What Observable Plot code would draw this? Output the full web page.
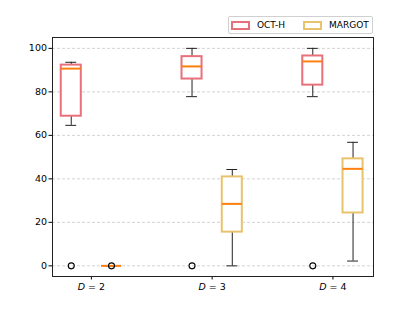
<!DOCTYPE html>
<html><head><meta charset="utf-8">
<script src="https://cdn.jsdelivr.net/npm/d3@7"></script>
<script src="https://cdn.jsdelivr.net/npm/@observablehq/plot@0.6"></script>
<style>
body{margin:0;background:#fff;font-family:"DejaVu Sans",sans-serif;}
#wrap{position:relative;width:415px;height:311px;}
#legend{position:absolute;left:228px;top:16px;width:143px;height:16px;border:1px solid #d0d0d0;border-radius:2px;background:#fff;font-size:9px;color:#000;display:flex;align-items:center;}
.sw{display:inline-block;width:15px;height:5px;border:2px solid;margin-left:2px;margin-right:7px;}
</style></head><body>
<div id="wrap"><div id="chart"></div>
<div id="legend"><span class="sw" style="border-color:#e8707a"></span><span>OCT-H</span><span class="sw" style="border-color:#e9c36c;margin-left:18px"></span><span>MARGOT</span></div>
</div>
<script>
const depths = [2, 3, 4];
const methods = ["OCT-H", "MARGOT"];
const colors = ["#e8707a", "#e9c36c"];
const yTicks = [0, 20, 40, 60, 80, 100];
const octLo  = [64.6, 77.8, 77.8];
const octQ1  = [68.8, 85.9, 83.1];
const octMed = [90.7, 91.7, 94.0];
const octQ3  = [92.3, 96.2, 96.5];
const octHi  = [93.6, 100, 100];
const octOut = [[0], [0], [0]];
const marLo  = [0, 0, 2.2];
const marQ1  = [0, 15.5, 24.3];
const marMed = [0, 28.5, 44.6];
const marQ3  = [0, 40.9, 49.2];
const marHi  = [0, 44.3, 56.8];
const marOut = [[0], [], []];

const offset = [-1/6, 1/6];
const halfW = 0.083, capW = 0.045;
const stats = [
  {lo: octLo, q1: octQ1, med: octMed, q3: octQ3, hi: octHi, out: octOut},
  {lo: marLo, q1: marQ1, med: marMed, q3: marQ3, hi: marHi, out: marOut}
];
const boxes = [], outliers = [];
stats.forEach((s, m) => depths.forEach((d, i) => {
  const x = d + offset[m];
  boxes.push({method: methods[m], color: colors[m], x, lo: s.lo[i], q1: s.q1[i], med: s.med[i], q3: s.q3[i], hi: s.hi[i]});
  s.out[i].forEach(v => outliers.push({x, v}));
}));

const chart = Plot.plot({
  width: 415, height: 311,
  marginLeft: 52, marginRight: 42, marginTop: 37, marginBottom: 35,
  style: {fontFamily: "DejaVu Sans, sans-serif", fontSize: "9.5px", color: "#000", background: "#fff"},
  x: {domain: [1.678, 4.336], ticks: depths, tickFormat: d => "D = " + d, tickSize: 3.5, tickPadding: 3, label: null},
  y: {domain: [-4.9, 105], ticks: yTicks, tickSize: 3.5, tickPadding: 2, label: null},
  marks: [
    Plot.ruleY(yTicks, {stroke: "#c8c8c8", strokeDasharray: "3,2", strokeWidth: 0.8}),
    Plot.ruleX(boxes, {x: "x", y1: "q3", y2: "hi", stroke: "#222", strokeWidth: 1}),
    Plot.ruleX(boxes, {x: "x", y1: "lo", y2: "q1", stroke: "#222", strokeWidth: 1}),
    Plot.ruleY(boxes, {y: "hi", x1: d => d.x - capW, x2: d => d.x + capW, stroke: "#222", strokeWidth: 1}),
    Plot.ruleY(boxes, {y: "lo", x1: d => d.x - capW, x2: d => d.x + capW, stroke: "#222", strokeWidth: 1}),
    Plot.rect(boxes, {x1: d => d.x - halfW, x2: d => d.x + halfW, y1: "q1", y2: "q3", fill: "white", stroke: "color", strokeWidth: 2}),
    Plot.ruleY(boxes, {y: "med", x1: d => d.x - halfW, x2: d => d.x + halfW, stroke: "#ff7f0e", strokeWidth: 2}),
    Plot.dot(outliers, {x: "x", y: "v", r: 3, stroke: "#000", strokeWidth: 1.1, fill: "none"}),
    Plot.frame({stroke: "#222", strokeWidth: 1})
  ]
});
document.getElementById("chart").appendChild(chart);
// italic D in x tick labels
chart.querySelectorAll('[aria-label="x-axis tick label"] text').forEach(t => {
  const s = t.textContent;
  const rest = s.slice(1);
  t.textContent = "";
  const ts = document.createElementNS("http://www.w3.org/2000/svg", "tspan");
  ts.setAttribute("font-style", "italic");
  ts.textContent = "D";
  t.appendChild(ts);
  t.appendChild(document.createTextNode(rest));
});
</script>
</body></html>
